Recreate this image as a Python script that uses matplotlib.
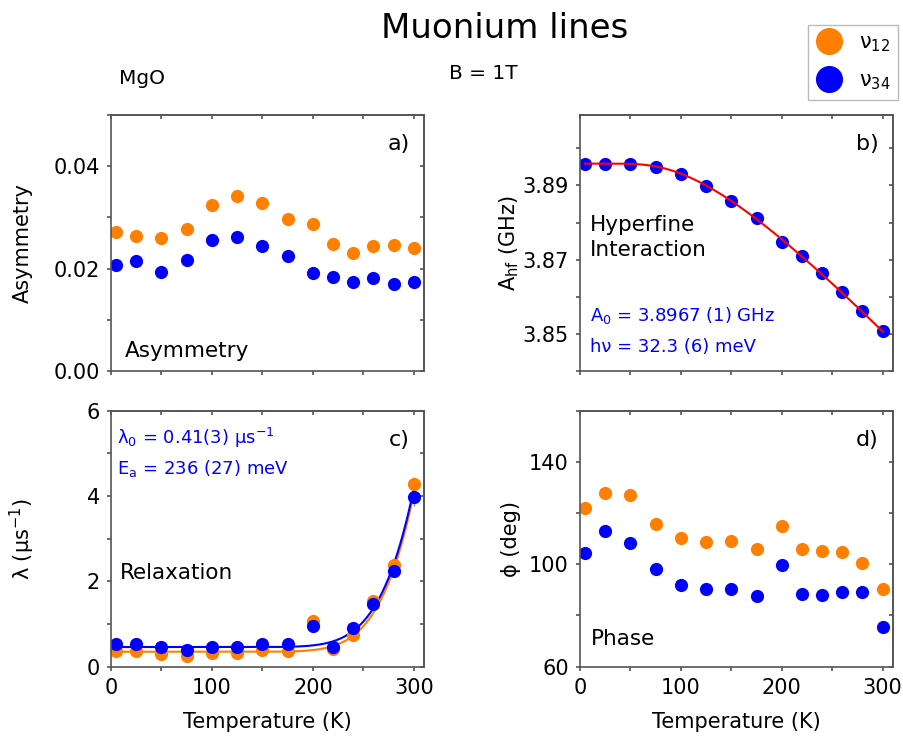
import numpy as np
import matplotlib
matplotlib.use("Agg")
import matplotlib.pyplot as plt
from matplotlib.ticker import MultipleLocator, FixedLocator
from matplotlib.lines import Line2D

plt.rcParams['font.family'] = ['DejaVu Sans']
plt.rcParams['mathtext.default'] = 'regular'

# temperatures (K)
temps = [5, 25, 50, 75, 100, 125, 150, 175, 200, 220, 240, 260, 280, 300]

# a) asymmetry
asym_12 = [0.0271, 0.0264, 0.0259, 0.0278, 0.0324, 0.0342, 0.0328, 0.0296, 0.0287,
           0.0249, 0.0230, 0.0244, 0.0246, 0.0241]
asym_34 = [0.0208, 0.0214, 0.0194, 0.0216, 0.0256, 0.0261, 0.0245, 0.0225, 0.0192,
           0.0184, 0.0174, 0.0182, 0.0170, 0.0174]

# b) hyperfine (GHz), nu34 only
ahf_34 = [3.8959, 3.8959, 3.8959, 3.8950, 3.8930, 3.8899, 3.8859, 3.8812, 3.8749,
          3.8709, 3.8664, 3.8614, 3.8561, 3.8507]

# c) relaxation (us^-1)
lam_12 = [0.37, 0.37, 0.30, 0.25, 0.32, 0.32, 0.38, 0.37, 1.06, 0.41, 0.74, 1.55, 2.38, 4.27]
lam_34 = [0.53, 0.53, 0.45, 0.38, 0.47, 0.47, 0.54, 0.52, 0.95, 0.45, 0.90, 1.48, 2.24, 3.98]
lam_12_err = [0.02, 0.02, 0.02, 0.02, 0.02, 0.02, 0.02, 0.02, 0.05, 0.03, 0.04, 0.06, 0.08, 0.18]
lam_34_err = [0.02, 0.02, 0.02, 0.02, 0.02, 0.02, 0.02, 0.02, 0.05, 0.03, 0.04, 0.06, 0.08, 0.22]

# d) phase (deg)
phase_12 = [122.1, 127.8, 127.0, 115.6, 110.4, 108.8, 109.0, 106.1, 114.9, 105.8, 105.2,
            104.9, 100.6, 90.5]
phase_34 = [104.2, 113.0, 108.4, 98.1, 91.9, 90.5, 90.5, 87.5, 99.9, 88.2, 88.1, 89.0,
            89.2, 75.5]
phase_34_err = [0.5, 0.5, 0.5, 0.5, 0.5, 0.5, 0.5, 0.5, 0.5, 0.5, 0.5, 0.5, 0.5, 2.5]

# fit parameters
kB = 8.617e-2  # meV/K
hf_A0, hf_C, hf_hnu = 3.8959, 0.1125, 32.3
rel_Ea = 236.0
rel_12 = (0.35, 34300.0)
rel_34 = (0.46, 34300.0)

ORANGE = '#FF8000'
BLUE = '#0000FF'
SPINE = '#555555'

fig = plt.figure(figsize=(9.04, 7.40), dpi=100)
ax_a = fig.add_axes([0.1228, 0.4986, 0.3462, 0.346])
ax_b = fig.add_axes([0.6416, 0.4986, 0.3459, 0.346])
ax_c = fig.add_axes([0.1228, 0.0991, 0.3462, 0.346])
ax_d = fig.add_axes([0.6416, 0.0991, 0.3459, 0.346])
axes = [ax_a, ax_b, ax_c, ax_d]

ms = 9.5

ax_a.plot(temps, asym_12, 'o', color=ORANGE, ms=ms, mec='none')
ax_a.plot(temps, asym_34, 'o', color=BLUE, ms=ms, mec='none')

tt = np.linspace(5, 300, 300)
ax_b.plot(temps, ahf_34, 'o', color=BLUE, ms=ms, mec='none')
ax_b.plot(tt, hf_A0 - hf_C / (np.exp(hf_hnu / (kB * tt)) - 1), color='#FF0000', lw=1.5)

ax_c.errorbar(temps, lam_12, yerr=lam_12_err, fmt='o', color=ORANGE, ms=ms, mec='none',
              ecolor='#FFB060', elinewidth=1)
ax_c.errorbar(temps, lam_34, yerr=lam_34_err, fmt='o', color=BLUE, ms=ms, mec='none',
              ecolor='#8080FF', elinewidth=1)
ax_c.plot(tt, rel_12[0] + rel_12[1] * np.exp(-rel_Ea / (kB * tt)), color=ORANGE, lw=1.5)
ax_c.plot(tt, rel_34[0] + rel_34[1] * np.exp(-rel_Ea / (kB * tt)), color=BLUE, lw=1.5)

ax_d.plot(temps, phase_12, 'o', color=ORANGE, ms=ms, mec='none')
ax_d.errorbar(temps, phase_34, yerr=phase_34_err, fmt='o', color=BLUE, ms=ms, mec='none',
              ecolor='#8080FF', elinewidth=1)

ylims = [(0, 0.05), (3.84, 3.909), (0, 6), (60, 160)]
ymajor = [[0.0, 0.02, 0.04], [3.85, 3.87, 3.89], [0, 2, 4, 6], [60, 100, 140]]
ylabels = [['0.00', '0.02', '0.04'], ['3.85', '3.87', '3.89'], ['0', '2', '4', '6'],
           ['60', '100', '140']]
yminor = [0.01, 0.01, 1, 20]
for ax, yl, mj, lb, mn in zip(axes, ylims, ymajor, ylabels, yminor):
    ax.set_xlim(0, 310)
    ax.set_ylim(*yl)
    ax.xaxis.set_major_locator(MultipleLocator(100))
    ax.xaxis.set_minor_locator(MultipleLocator(50))
    ax.set_yticks(mj)
    ax.set_yticklabels(lb)
    ax.yaxis.set_minor_locator(MultipleLocator(mn))
    for s in ax.spines.values():
        s.set_color(SPINE)
        s.set_linewidth(1.2)
    ax.tick_params(which='both', direction='out', length=3, width=1.2, color=SPINE,
                   labelsize=15, pad=5)
    # mirror ticks pointing inward on top / right
    top = ax.secondary_xaxis('top')
    top.xaxis.set_major_locator(MultipleLocator(100))
    top.xaxis.set_minor_locator(MultipleLocator(50))
    top.tick_params(which='both', direction='in', length=3, width=1.2, color=SPINE,
                    labeltop=False)
    right = ax.secondary_yaxis('right')
    right.yaxis.set_major_locator(FixedLocator(mj))
    right.yaxis.set_minor_locator(MultipleLocator(mn))
    right.tick_params(which='both', direction='in', length=3, width=1.2, color=SPINE,
                      labelright=False)
    for sa in (top, right):
        for s in sa.spines.values():
            s.set_color(SPINE)
            s.set_linewidth(1.2)

ax_a.tick_params(labelbottom=False)
ax_b.tick_params(labelbottom=False)

ax_a.set_ylabel('Asymmetry', fontsize=15)
ax_b.set_ylabel('A$_{hf}$ (GHz)', fontsize=15)
ax_c.set_ylabel('λ (μs$^{-1}$)', fontsize=15)
ax_d.set_ylabel('ϕ (deg)', fontsize=15)
ax_a.yaxis.set_label_coords(-0.25, 0.5)
ax_c.yaxis.set_label_coords(-0.235, 0.5)
ax_b.yaxis.set_label_coords(-0.19, 0.5)
ax_d.yaxis.set_label_coords(-0.19, 0.5)
ax_c.set_xlabel('Temperature (K)', fontsize=15, labelpad=10)
ax_d.set_xlabel('Temperature (K)', fontsize=15, labelpad=10)

for ax, lab in zip(axes, ['a)', 'b)', 'c)', 'd)']):
    ax.text(0.955, 0.885, lab, transform=ax.transAxes, ha='right', va='center', fontsize=16)

ax_a.text(0.045, 0.08, 'Asymmetry', transform=ax_a.transAxes, fontsize=15.5, va='center')
ax_b.text(0.032, 0.52, 'Hyperfine\nInteraction', transform=ax_b.transAxes, fontsize=15.5,
          va='center', linespacing=1.3)
ax_b.text(0.032, 0.215, 'A$_0$ = 3.8967 (1) GHz', transform=ax_b.transAxes, fontsize=13,
          color=BLUE, va='center')
ax_b.text(0.032, 0.095, 'hν = 32.3 (6) meV', transform=ax_b.transAxes, fontsize=13,
          color=BLUE, va='center')
ax_c.text(0.028, 0.365, 'Relaxation', transform=ax_c.transAxes, fontsize=15.5, va='center')
ax_c.text(0.02, 0.895, 'λ$_0$ = 0.41(3) μs$^{-1}$', transform=ax_c.transAxes, fontsize=13,
          color=BLUE, va='center')
ax_c.text(0.02, 0.775, 'E$_a$ = 236 (27) meV', transform=ax_c.transAxes, fontsize=13,
          color=BLUE, va='center')
ax_d.text(0.035, 0.11, 'Phase', transform=ax_d.transAxes, fontsize=15.5, va='center')

fig.text(0.558, 0.962, 'Muonium lines', fontsize=24.5, ha='center', va='center')
fig.text(0.132, 0.894, 'MgO', fontsize=14.5, va='center')
fig.text(0.497, 0.901, 'B = 1T', fontsize=14.5, va='center')

handles = [Line2D([0], [0], marker='o', ls='none', color=ORANGE, ms=19.5, mec='none'),
           Line2D([0], [0], marker='o', ls='none', color=BLUE, ms=19.5, mec='none')]
leg = fig.legend(handles, ['ν$_{12}$', 'ν$_{34}$'], loc='upper right',
                 bbox_to_anchor=(0.9934, 0.966), borderaxespad=0, fontsize=15,
                 frameon=True, fancybox=False, edgecolor='#AAAAAA', handletextpad=0.8,
                 borderpad=0.35, labelspacing=0.8, handlelength=1.3)
leg.get_frame().set_linewidth(1.0)

fig.savefig('out.png', dpi=100)
